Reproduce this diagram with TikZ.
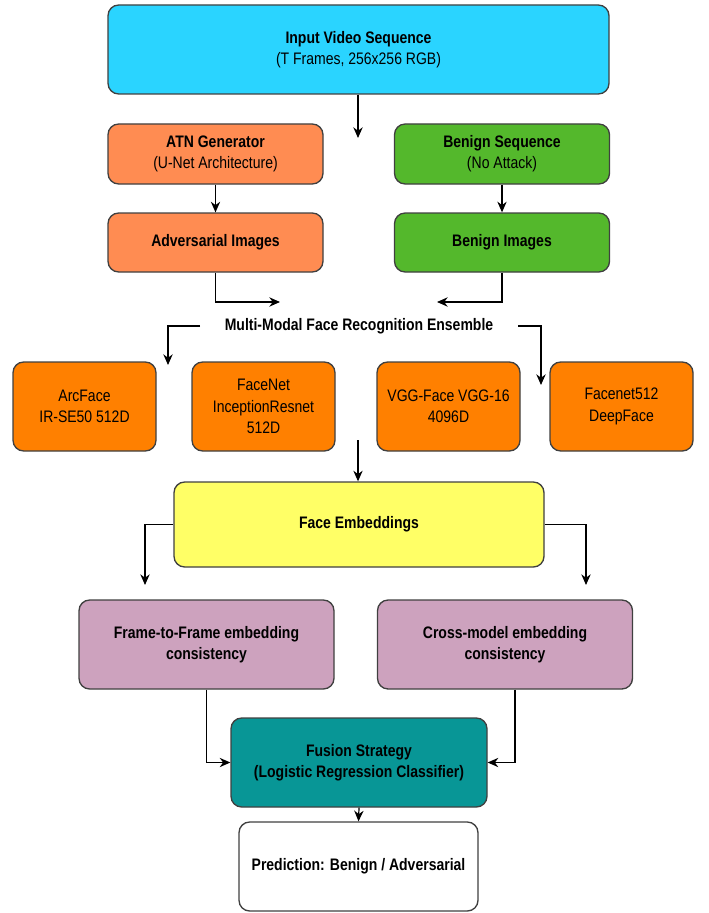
\documentclass[tikz,border=0pt]{standalone}
\usepackage{fontspec}
\setmainfont{Liberation Sans}[FakeStretch=0.84]
\usetikzlibrary{arrows.meta}
\definecolor{inputblue}{RGB}{42,212,255}
\definecolor{atnorange}{RGB}{255,140,82}
\definecolor{benigngreen}{RGB}{84,184,44}
\definecolor{modelorange}{RGB}{255,128,0}
\definecolor{embyellow}{RGB}{255,255,102}
\definecolor{conspink}{RGB}{205,162,190}
\definecolor{fusionteal}{RGB}{8,150,150}
\tikzset{
  box/.style={draw=black!75, line width=1pt, rounded corners=8pt, align=center,
    inner sep=0pt, font=\fontsize{12.5}{16}\selectfont},
  arr/.style={-{Stealth[length=8pt,width=7pt]}, line width=0.9pt},
}
\begin{document}
\begin{tikzpicture}[x=0.75pt,y=-0.75pt]
  \useasboundingbox (0,0) rectangle (709,913);
  % input and the two branches
  \node[box, fill=inputblue, minimum width=375.75pt, minimum height=66.75pt] (input) at (358.5,49.5)
    {\textbf{Input Video Sequence}\\(T Frames, 256x256 RGB)};
  \node[box, fill=atnorange, minimum width=161.25pt, minimum height=45pt] (atn) at (215.5,154)
    {\textbf{ATN Generator}\\(U-Net Architecture)};
  \node[box, fill=benigngreen, minimum width=161.25pt, minimum height=45pt] (benseq) at (502,154)
    {\textbf{Benign Sequence}\\(No Attack)};
  \node[box, fill=atnorange, minimum width=161.25pt, minimum height=44.25pt] (advimg) at (215.5,242.5)
    {\textbf{Adversarial Images}};
  \node[box, fill=benigngreen, minimum width=161.25pt, minimum height=44.25pt] (benimg) at (502,242.5)
    {\textbf{Benign Images}};
  % ensemble
  \node[font=\fontsize{12.5}{16}\selectfont\bfseries, inner sep=0pt] (ens) at (359,326)
    {Multi-Modal Face Recognition Ensemble};
  \node[box, fill=modelorange, minimum width=107.25pt, minimum height=66.75pt] (arcface) at (84.5,406.5)
    {ArcFace\\IR-SE50 512D};
  \node[box, fill=modelorange, minimum width=107.25pt, minimum height=66.75pt] (facenet) at (263.5,406.5)
    {FaceNet\\InceptionResnet\\512D};
  \node[box, fill=modelorange, minimum width=107.25pt, minimum height=66.75pt] (vggface) at (448.5,406.5)
    {VGG-Face VGG-16\\4096D};
  \node[box, fill=modelorange, minimum width=107.25pt, minimum height=66.75pt] (facenet512) at (621.5,406.5)
    {Facenet512\\DeepFace};
  % embeddings and consistency
  \node[box, fill=embyellow, minimum width=277.5pt, minimum height=63.75pt] (embed) at (359,524.5)
    {\textbf{Face Embeddings}};
  \node[box, fill=conspink, minimum width=191.25pt, minimum height=66.75pt] (frame) at (206.5,644.5)
    {\textbf{Frame-to-Frame embedding}\\\textbf{consistency}};
  \node[box, fill=conspink, minimum width=191.25pt, minimum height=66.75pt] (cross) at (505,644.5)
    {\textbf{Cross-model embedding}\\\textbf{consistency}};
  \node[box, fill=fusionteal, minimum width=192pt, minimum height=66.75pt] (fusion) at (359,762.5)
    {\textbf{Fusion Strategy}\\\textbf{(Logistic Regression Classifier)}};
  \node[box, fill=white, minimum width=179.25pt, minimum height=66.75pt] (pred) at (358.5,866.5)
    {\textbf{Prediction: Benign / Adversarial}};
  % free ends
  \coordinate (inend) at (358,138);
  \coordinate (advend) at (280,302);
  \coordinate (benend) at (437,302);
  \coordinate (ensl) at (200,326);
  \coordinate (ensr) at (518,326);
  \coordinate (arcend) at (168,365);
  \coordinate (f512end) at (541,385);
  \coordinate (modstart) at (358,440);
  \coordinate (frameend) at (145,585);
  \coordinate (crossend) at (586,585);
  % connectors
  \draw[arr] (input.south -| inend) -- (inend);
  \draw[arr] (atn) -- (advimg);
  \draw[arr] (benseq) -- (benimg);
  \draw[arr] (advimg.south) |- (advend);
  \draw[arr] (benimg.south) |- (benend);
  \draw[arr] (ensl) -| (arcend);
  \draw[arr] (ensr) -| (f512end);
  \draw[arr] (modstart) -- (embed.north -| modstart);
  \draw[arr] (embed.west) -| (frameend);
  \draw[arr] (embed.east) -| (crossend);
  \draw[arr] (frame.south) |- (fusion.west);
  \draw[arr] ([xshift=7.5pt]cross.south) |- (fusion.east);
  \draw[arr] (fusion.south) -- (pred.north);
\end{tikzpicture}
\end{document}
